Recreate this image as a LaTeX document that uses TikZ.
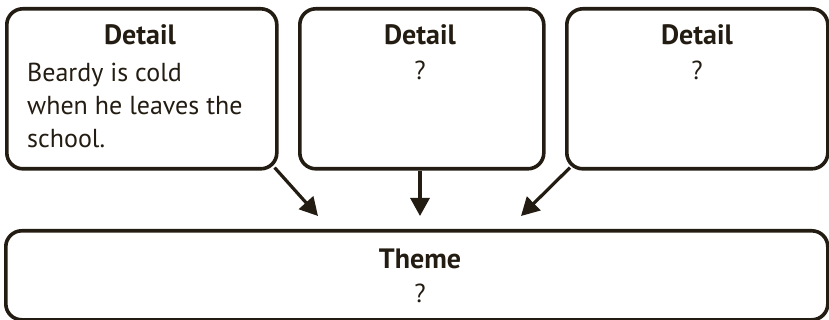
\documentclass[tikz,border=0pt]{standalone}
\usepackage{fontspec}
\setmainfont{PT Sans}
\usetikzlibrary{positioning,arrows.meta,calc}
\definecolor{ink}{HTML}{231C12}

\begin{document}
\begin{tikzpicture}[x=1pt, y=-1pt,
    box/.style={draw=ink, line width=3.6pt, rounded corners=16pt,
      inner sep=0, anchor=north west},
    head/.style={font=\fontsize{28}{33}\selectfont\bfseries, text=ink,
      inner sep=0, anchor=base},
    body/.style={font=\fontsize{26}{33}\selectfont, text=ink,
      inner sep=0, anchor=base},
    link/.style={draw=ink, line width=3.2pt,
      -{Triangle[length=18pt,width=19pt]}}]
  \useasboundingbox (0,0) rectangle (829,320);
  % detail boxes
  \node[box, minimum width=270pt, minimum height=160pt] (detailA) at (5,7) {};
  \node[box, minimum width=244pt, minimum height=160pt] (detailB) at (298,7) {};
  \node[box, minimum width=261pt, minimum height=160pt] (detailC) at (565,7) {};
  % theme box
  \node[box, minimum width=822pt, minimum height=89pt] (theme) at (4,229) {};

  \node[head] (headA) at (140,45) {Detail};
  \node[body, anchor=base west] (lineA1) at (27,82) {Beardy is cold};
  \node[body, anchor=base west] (lineA2) at (27,115) {when he leaves the};
  \node[body, anchor=base west] (lineA3) at (27,148) {school.};
  \node[head] (headB) at (420,45) {Detail};
  \node[body] (textB) at (420,80) {?};
  \node[head] (headC) at (697,45) {Detail};
  \node[body] (textC) at (697,80) {?};
  \node[head] (headT) at (420,268) {Theme};
  \node[body] (textT) at (420,302) {?};

  % arrows
  \coordinate (tipA) at (318,216);
  \coordinate (tipB) at (420,216);
  \coordinate (tipC) at (521,216);
  \draw[link] ($(detailA.south east)+(-4,-3)$) -- (tipA);
  \draw[link] (detailB.south -| tipB) -- (tipB);
  \draw[link] ($(detailC.south west)+(5,-3)$) -- (tipC);
\end{tikzpicture}
\end{document}
